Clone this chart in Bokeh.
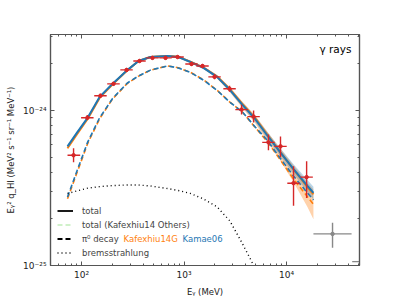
from bokeh.plotting import figure
from bokeh.models import LogAxis, FixedTicker, ColumnDataSource, Legend, LegendItem, Label
from bokeh.embed import file_html
from bokeh.resources import INLINE

# ---- model curves (MeV, MeV^2 s^-1 sr^-1 MeV^-1) ----
energy = [73, 90, 115, 150, 200, 280, 360, 470, 690, 880, 1150, 1550, 2100, 2800,
          3700, 4900, 6500, 8700, 11700, 16000, 18300]
total_kamae = [5.88e-25, 7.18e-25, 9.02e-25, 12.24e-25, 14.87e-25, 18.26e-25, 20.91e-25,
               22.19e-25, 22.52e-25, 22.19e-25, 20.62e-25, 18.86e-25, 16.52e-25, 13.63e-25,
               10.93e-25, 8.89e-25, 6.91e-25, 5.38e-25, 4.19e-25, 3.26e-25, 2.94e-25]
kamae_hi = [5.97e-25, 7.29e-25, 9.16e-25, 12.42e-25, 15.09e-25, 18.53e-25, 21.22e-25,
            22.52e-25, 22.86e-25, 22.52e-25, 21.03e-25, 19.24e-25, 16.93e-25, 14.04e-25,
            11.33e-25, 9.29e-25, 7.28e-25, 5.71e-25, 4.51e-25, 3.56e-25, 3.23e-25]
kamae_lo = [5.79e-25, 7.07e-25, 8.89e-25, 12.06e-25, 14.65e-25, 17.99e-25, 20.60e-25,
            21.86e-25, 22.19e-25, 21.86e-25, 20.22e-25, 18.49e-25, 16.12e-25, 13.23e-25,
            10.54e-25, 8.51e-25, 6.56e-25, 5.07e-25, 3.89e-25, 2.98e-25, 2.67e-25]
total_kafexhiu = [5.72e-25, 7.02e-25, 8.86e-25, 12.08e-25, 14.75e-25, 18.2e-25, 20.9e-25,
                  22.2e-25, 22.55e-25, 22.25e-25, 20.7e-25, 18.95e-25, 16.6e-25, 13.75e-25,
                  11.05e-25, 9.0e-25, 6.98e-25, 5.4e-25, 4.17e-25, 3.2e-25, 2.88e-25]
kafexhiu_hi = [5.81e-25, 7.13e-25, 8.99e-25, 12.26e-25, 14.97e-25, 18.47e-25, 21.21e-25,
               22.53e-25, 22.89e-25, 22.58e-25, 21.01e-25, 19.23e-25, 17.02e-25, 14.16e-25,
               11.44e-25, 9.36e-25, 7.29e-25, 5.67e-25, 4.42e-25, 3.42e-25, 3.10e-25]
kafexhiu_lo = [5.64e-25, 6.92e-25, 8.73e-25, 11.90e-25, 14.53e-25, 17.93e-25, 20.59e-25,
               21.87e-25, 22.22e-25, 21.92e-25, 20.39e-25, 18.67e-25, 16.12e-25, 13.16e-25,
               10.42e-25, 8.36e-25, 6.29e-25, 4.74e-25, 3.45e-25, 2.39e-25, 1.99e-25]
pi0_kamae = [2.77e-25, 4.06e-25, 6.28e-25, 8.98e-25, 11.94e-25, 15.07e-25, 16.74e-25,
             18.26e-25, 19.43e-25, 18.86e-25, 17.65e-25, 15.73e-25, 13.51e-25, 11.32e-25,
             9.82e-25, 7.90e-25, 6.42e-25, 4.92e-25, 3.78e-25, 2.94e-25, 2.65e-25]
pi0_kafexhiu = [2.70e-25, 3.95e-25, 6.15e-25, 8.85e-25, 11.85e-25, 15.0e-25, 16.7e-25,
                18.25e-25, 19.45e-25, 18.9e-25, 17.7e-25, 15.8e-25, 13.55e-25, 11.35e-25,
                9.8e-25, 7.85e-25, 6.3e-25, 4.8e-25, 3.62e-25, 2.78e-25, 2.48e-25]
brems_energy = [73, 90, 115, 150, 200, 280, 360, 470, 690, 880, 1150, 1550, 2100, 2800,
                3700, 4900]
brems = [2.915e-25, 3.03e-25, 3.16e-25, 3.23e-25, 3.28e-25, 3.31e-25, 3.31e-25, 3.26e-25,
         3.14e-25, 3.05e-25, 2.92e-25, 2.69e-25, 2.39e-25, 1.94e-25, 1.39e-25, 0.97e-25]

# ---- Fermi-LAT data points ----
data_e = [83.6, 114, 153, 205, 275, 368, 492, 660, 865, 1183, 1514, 1985, 2780, 3640,
          4770, 6660, 8730, 11700, 15700]
data_e_lo = [73, 99, 133, 178, 239, 320, 428, 574, 752, 1029, 1317, 1726, 2417, 3165,
             4148, 5791, 7591, 10174, 13652]
data_e_hi = [97, 131, 176, 236, 316, 423, 566, 759, 995, 1360, 1741, 2283, 3197, 4186,
             5486, 7659, 10040, 13455, 18055]
data_q = [5.15e-25, 9.0e-25, 12.48e-25, 14.89e-25, 18.31e-25, 20.91e-25, 21.9e-25,
          21.9e-25, 22.18e-25, 20.0e-25, 19.42e-25, 16.52e-25, 13.83e-25, 10.15e-25,
          9.15e-25, 6.24e-25, 5.88e-25, 3.40e-25, 3.72e-25]
data_q_hi = [5.71e-25, 9.36e-25, 12.85e-25, 15.34e-25, 18.86e-25, 21.39e-25, 22.4e-25,
             22.4e-25, 22.7e-25, 20.6e-25, 20.0e-25, 17.14e-25, 14.46e-25, 10.93e-25,
             10.0e-25, 7.02e-25, 6.81e-25, 4.38e-25, 4.71e-25]
data_q_lo = [4.64e-25, 8.69e-25, 12.11e-25, 14.46e-25, 17.77e-25, 20.44e-25, 21.4e-25,
             21.4e-25, 21.7e-25, 19.4e-25, 18.86e-25, 15.92e-25, 13.23e-25, 9.43e-25,
             8.38e-25, 5.54e-25, 4.99e-25, 2.43e-25, 2.73e-25]

# ---- grey reference point ----
ref_e = [28100]
ref_e_lo = [18300]
ref_e_hi = [43100]
ref_q = [1.6e-25]
ref_q_lo = [1.30e-25]
ref_q_hi = [1.89e-25]
edge_e_lo = [43700]
edge_e_hi = [52000]
edge_q = [1.06e-25]

x_major = [100, 1000, 10000]
x_labels = ["10²", "10³", "10⁴"]
y_major = [1e-25, 1e-24]
y_labels = ["10⁻²⁵", "10⁻²⁴"]
x_minor = [60, 70, 80, 90, 200, 300, 400, 500, 600, 700, 800, 900,
           2000, 3000, 4000, 5000, 6000, 7000, 8000, 9000, 20000, 30000, 40000, 50000]
y_minor = [2e-25, 3e-25, 4e-25, 5e-25, 6e-25, 7e-25, 8e-25, 9e-25, 2e-24, 3e-24]

BLUE = "#1f77b4"
ORANGE = "#ff7f0e"
RED = "#d62728"
GREEN = "#98df8a"
AX = "#555555"
FONT = "DejaVu Sans"
DASH = "5 3"
DOT = "1 3"

p = figure(width=399, height=299, x_axis_type="log", y_axis_type="log",
           x_range=(49.8, 51500), y_range=(1e-25, 3.1e-24),
           output_backend="svg", toolbar_location=None,
           min_border_left=50, min_border_right=40, min_border_top=34, min_border_bottom=33)
p.background_fill_color = "white"
p.border_fill_color = "white"
p.outline_line_color = AX
p.outline_line_width = 1.2
p.xgrid.visible = False
p.ygrid.visible = False

src = ColumnDataSource(dict(e=energy, tk=total_kamae, khi=kamae_hi, klo=kamae_lo,
                            tf=total_kafexhiu, fhi=kafexhiu_hi, flo=kafexhiu_lo,
                            pk=pi0_kamae, pf=pi0_kafexhiu))
bsrc = ColumnDataSource(dict(e=brems_energy, b=brems))
dsrc = ColumnDataSource(dict(e=data_e, elo=data_e_lo, ehi=data_e_hi,
                             q=data_q, qlo=data_q_lo, qhi=data_q_hi))
rsrc = ColumnDataSource(dict(e=ref_e, elo=ref_e_lo, ehi=ref_e_hi,
                             q=ref_q, qlo=ref_q_lo, qhi=ref_q_hi))
esrc = ColumnDataSource(dict(x0=edge_e_lo, x1=edge_e_hi, y=edge_q))

# bands
p.varea(x="e", y1="flo", y2="fhi", source=src, fill_color=ORANGE, fill_alpha=0.35)
p.varea(x="e", y1="klo", y2="khi", source=src, fill_color=BLUE, fill_alpha=0.3)

# curves
p.line("e", "tf", source=src, line_color=GREEN, line_width=1.5, line_dash=DASH, line_alpha=0.5)
p.line("e", "tf", source=src, line_color=ORANGE, line_width=2)
p.line("e", "pf", source=src, line_color=ORANGE, line_width=1.6, line_dash=DASH)
p.line("e", "tk", source=src, line_color=BLUE, line_width=2)
p.line("e", "pk", source=src, line_color=BLUE, line_width=1.6, line_dash=DASH)
p.line("e", "b", source=bsrc, line_color="black", line_width=1.4, line_dash=DOT)

# data
p.segment(x0="elo", x1="ehi", y0="q", y1="q", source=dsrc, line_color=RED, line_width=1.4)
p.segment(x0="e", x1="e", y0="qlo", y1="qhi", source=dsrc, line_color=RED, line_width=1.4)
p.scatter("e", "q", source=dsrc, size=3.5, color=RED)

p.segment(x0="elo", x1="ehi", y0="q", y1="q", source=rsrc, line_color="#888888", line_width=1.4)
p.segment(x0="e", x1="e", y0="qlo", y1="qhi", source=rsrc, line_color="#888888", line_width=1.4)
p.scatter("e", "q", source=rsrc, size=3.5, color="#888888")
p.segment(x0="x0", x1="x1", y0="y", y1="y", source=esrc, line_color="#888888", line_width=1.4)

# legend sample renderers (hidden, used only for legend glyphs)
l_tot = p.line("e", "tk", source=src, line_color="black", line_width=1.8, visible=False)
l_oth = p.line("e", "tk", source=src, line_color=GREEN, line_width=1.5, line_dash=DASH,
               line_alpha=0.6, visible=False)
l_pi0 = p.line("e", "tk", source=src, line_color="black", line_width=1.8, line_dash=DASH, visible=False)
l_brm = p.line("e", "tk", source=src, line_color="black", line_width=1.4, line_dash=DOT, visible=False)
legend = Legend(items=[LegendItem(label="total", renderers=[l_tot]),
                       LegendItem(label="total (Kafexhiu14 Others)", renderers=[l_oth]),
                       LegendItem(label="π⁰ decay", renderers=[l_pi0]),
                       LegendItem(label="bremsstrahlung", renderers=[l_brm])],
                location=(7, 6), padding=0, margin=0, spacing=1,
                glyph_width=16, glyph_height=13, label_height=13, label_standoff=9,
                label_text_font=FONT, label_text_font_size="8.5px",
                background_fill_alpha=0, border_line_color=None,
                inactive_fill_alpha=0)
p.add_layout(legend, "center")

p.add_layout(Label(x=257, y=1.49e-25, text="Kafexhiu14G", text_color=ORANGE,
                   text_font=FONT, text_font_size="8.5px", text_baseline="middle"))
p.add_layout(Label(x=966, y=1.49e-25, text="Kamae06", text_color=BLUE,
                   text_font=FONT, text_font_size="8.5px", text_baseline="middle"))
p.add_layout(Label(x=43000, y=2.49e-24, text="γ rays", text_color="black",
                   text_font=FONT, text_font_size="10.5px", text_align="right",
                   text_baseline="middle"))

# axes
xt = FixedTicker(ticks=x_major, minor_ticks=x_minor)
yt = FixedTicker(ticks=y_major, minor_ticks=y_minor)


def style(ax):
    ax.axis_line_color = AX
    ax.axis_line_width = 1.2
    ax.major_tick_line_color = AX
    ax.minor_tick_line_color = AX
    ax.major_tick_in = 4
    ax.major_tick_out = 0
    ax.minor_tick_in = 2
    ax.minor_tick_out = 0
    ax.major_label_text_font = FONT
    ax.major_label_text_font_size = "9px"
    ax.major_label_text_color = "#222222"
    ax.axis_label_text_font = FONT
    ax.axis_label_text_font_size = "8.5px"
    ax.axis_label_text_font_style = "normal"
    ax.axis_label_text_color = "#222222"
    ax.major_label_standoff = 4
    ax.axis_label_standoff = 4


xa = p.xaxis[0]
xa.ticker = xt
xa.major_label_overrides = dict(zip(x_major, x_labels))
xa.axis_label = "Eᵧ (MeV)"
style(xa)
ya = p.yaxis[0]
ya.ticker = yt
ya.major_label_overrides = dict(zip(y_major, y_labels))
ya.axis_label = "Eᵧ² q_HI (MeV² s⁻¹ sr⁻¹ MeV⁻¹)"
style(ya)

top = LogAxis(ticker=xt, major_label_overrides={t: "" for t in x_major})
style(top)
top.major_label_standoff = 0
p.add_layout(top, "above")
right = LogAxis(ticker=yt, major_label_overrides={t: "" for t in y_major})
style(right)
right.major_label_standoff = 0
p.add_layout(right, "right")

open("out.html", "w").write(file_html(p, INLINE))
